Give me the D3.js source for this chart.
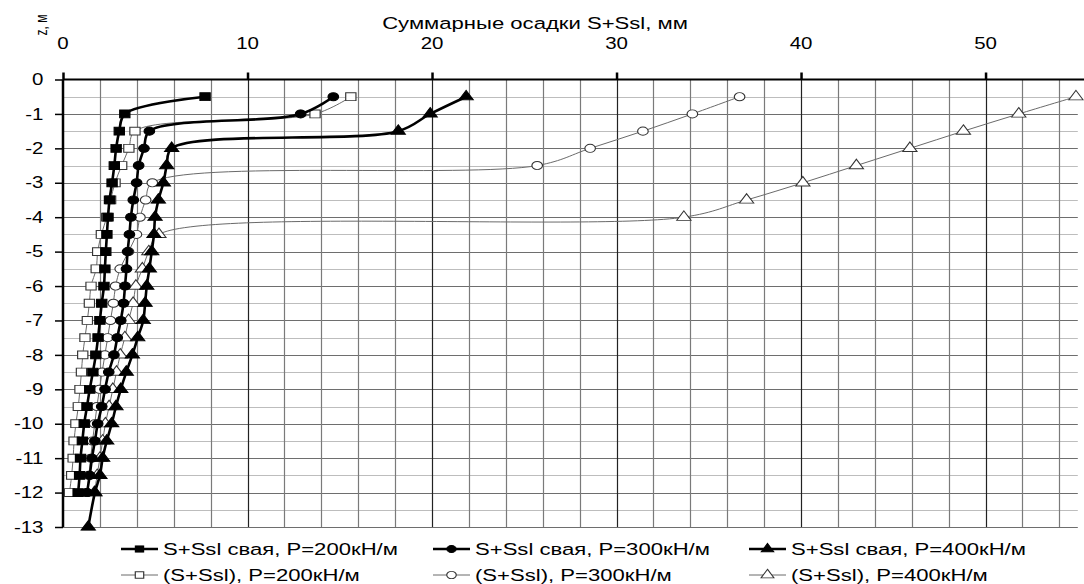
<!DOCTYPE html>
<html>
<head>
<meta charset="utf-8">
<script src="https://cdn.jsdelivr.net/npm/d3@7"></script>
<style>
  body { margin: 0; background: #fff; }
  text { font-family: "Liberation Sans", Arial, sans-serif; fill: #000; }
</style>
</head>
<body>
<svg id="chart"></svg>
<script>
// depths, m
var depths = [-0.5, -1, -1.5, -2, -2.5, -3, -3.5, -4, -4.5, -5, -5.5, -6, -6.5, -7, -7.5, -8,
              -8.5, -9, -9.5, -10, -10.5, -11, -11.5, -12];
var depths400 = [-0.5, -1, -1.5, -2, -2.5, -3, -3.5, -4, -4.5, -5, -5.5, -6, -6.5, -7, -7.5, -8,
                 -8.5, -9, -9.5, -10, -10.5, -11, -11.5, -12, -13];

// settlements, mm
var pile200 = [7.7, 3.35, 3.05, 2.88, 2.78, 2.66, 2.52, 2.44, 2.38, 2.32, 2.27, 2.22, 2.1, 2.0, 1.9, 1.78,
               1.62, 1.45, 1.3, 1.15, 1.05, 0.95, 0.9, 0.82];
var pile300 = [14.65, 12.88, 4.68, 4.39, 4.1, 3.99, 3.81, 3.68, 3.6, 3.5, 3.44, 3.36, 3.28, 3.13, 2.94, 2.76,
               2.48, 2.28, 2.1, 1.88, 1.73, 1.57, 1.45, 1.3];
var pile400 = [21.85, 19.9, 18.17, 5.89, 5.62, 5.44, 5.17, 4.99, 4.93, 4.81, 4.68, 4.54, 4.45, 4.35, 4.05, 3.76,
               3.43, 3.13, 2.87, 2.64, 2.37, 2.15, 2.0, 1.73, 1.37];
var soil200 = [15.6, 13.66, 3.9, 3.57, 3.18, 2.82, 2.58, 2.37, 2.08, 1.88, 1.8, 1.52, 1.43, 1.32, 1.19, 1.07,
               1.0, 0.92, 0.83, 0.7, 0.6, 0.55, 0.47, 0.35];
var soil300 = [36.67, 34.11, 31.43, 28.57, 25.7, 4.84, 4.48, 4.17, 3.98, 3.55, 3.1, 2.85, 2.73, 2.57, 2.42, 2.27,
               2.12, 1.97, 1.84, 1.72, 1.6, 1.5, 1.4, 1.3];
var soil400 = [54.9, 51.8, 48.8, 45.9, 43.0, 40.1, 37.05, 33.65, 5.2, 4.65, 4.3, 3.95, 3.8, 3.55, 3.35, 3.1,
               2.9, 2.7, 2.5, 2.3, 2.15, 2.0, 1.85, 1.7];

var xTicks = [0, 10, 20, 30, 40, 50];
var yTicks = [0, -1, -2, -3, -4, -5, -6, -7, -8, -9, -10, -11, -12, -13];

var seriesNames = ["S+Ssl свая, P=200кН/м", "S+Ssl свая, P=300кН/м", "S+Ssl свая, P=400кН/м",
                   "(S+Ssl), P=200кН/м", "(S+Ssl), P=300кН/м", "(S+Ssl), P=400кН/м"];

var series = [
  {name: seriesNames[3], z: depths, v: soil200, sym: d3.symbolSquare, filled: false},
  {name: seriesNames[4], z: depths, v: soil300, sym: d3.symbolCircle, filled: false},
  {name: seriesNames[5], z: depths, v: soil400, sym: d3.symbolTriangle, filled: false},
  {name: seriesNames[0], z: depths, v: pile200, sym: d3.symbolSquare, filled: true},
  {name: seriesNames[1], z: depths, v: pile300, sym: d3.symbolCircle, filled: true},
  {name: seriesNames[2], z: depths400, v: pile400, sym: d3.symbolTriangle, filled: true}
];

var width = 1084, height = 584;
var stretch = 1.28;   // the picture is a bit wider than tall in its glyphs

var svg = d3.select("#chart")
    .attr("width", width)
    .attr("height", height);

var x = d3.scaleLinear().domain([0, 55]).range([63, 1077.8]);
var y = d3.scaleLinear().domain([0, -13]).range([79.5, 527]);

function label(parent, px, py, str, size, anchor, sx) {
  return parent.append("text")
      .attr("transform", "translate(" + px + "," + py + ") scale(" + sx + ",1)")
      .attr("text-anchor", anchor)
      .attr("font-size", size)
      .text(str);
}

// grid
var grid = svg.append("g");
var hGrid = [];
for (var i = 1; i <= 26; i++) hGrid.push(-i / 2);
grid.selectAll(".h")
    .data(hGrid)
    .enter().append("line")
    .attr("x1", x(0)).attr("x2", x(55))
    .attr("y1", function(d) { return Math.round(y(d)) + 0.5; })
    .attr("y2", function(d) { return Math.round(y(d)) + 0.5; })
    .attr("stroke", function(d) { return d % 1 === 0 ? "#6e6e6e" : "#bdbdbd"; })
    .attr("stroke-width", 1.2);

var vGrid = [];
for (var j = 2; j <= 54; j += 2) vGrid.push(j);
grid.selectAll(".v")
    .data(vGrid)
    .enter().append("line")
    .attr("y1", y(0)).attr("y2", y(-13))
    .attr("x1", function(d) { return Math.round(x(d)) + 0.5; })
    .attr("x2", function(d) { return Math.round(x(d)) + 0.5; })
    .attr("stroke", function(d) { return d % 10 === 0 ? "#222" : "#7a7a7a"; })
    .attr("stroke-width", 1.2);

// axes
var xAxis = svg.append("g")
    .attr("transform", "translate(0," + y(0) + ")")
    .call(d3.axisTop(x).tickValues(xTicks).tickSize(7).tickFormat(""));
xAxis.select(".domain").attr("stroke-width", 2.2).attr("d", "M" + x(0) + ",0H" + width);
xAxis.selectAll(".tick line").attr("stroke-width", 2.5);

var yAxis = svg.append("g")
    .attr("transform", "translate(" + x(0) + ",0)")
    .call(d3.axisLeft(y).tickValues(yTicks).tickSize(8).tickFormat(""));
yAxis.select(".domain").attr("stroke-width", 2.5).attr("d", "M0," + y(0) + "V" + y(-13));
yAxis.selectAll(".tick line").attr("stroke-width", 1.5);

var labels = svg.append("g");
xTicks.forEach(function(d) {
  label(labels, x(d), 49, d3.format("d")(d), 16, "middle", stretch);
});
yTicks.forEach(function(d) {
  label(labels, 43.5, y(d) + 5.7, d === 0 ? "0" : "-" + Math.abs(d), 16, "end", stretch);
});

// titles
label(svg, 535, 29, "Суммарные осадки S+Ssl, мм", 17, "middle", 1.3);

svg.append("text")
    .attr("transform", "translate(46.5,25) scale(1.3,1) rotate(-90)")
    .attr("text-anchor", "middle")
    .attr("font-size", 12)
    .text("z, м");

// lines and markers
var line = d3.line()
    .x(function(d) { return x(d[0]); })
    .y(function(d) { return y(d[1]); })
    .curve(d3.curveCatmullRom);

function symSize(s) {
  if (s === d3.symbolTriangle) return 52;
  if (s === d3.symbolCircle) return 52;
  return 62;
}

series.forEach(function(s) {
  var pts = s.v.map(function(v, k) { return [v, s.z[k]]; });
  svg.append("path")
      .datum(pts)
      .attr("d", line)
      .attr("fill", "none")
      .attr("stroke", s.filled ? "#000" : "#6a6a6a")
      .attr("stroke-width", s.filled ? 2.6 : 1);
  svg.selectAll(null)
      .data(pts)
      .enter().append("path")
      .attr("transform", function(d) {
        return "translate(" + x(d[0]) + "," + y(d[1]) + ") scale(1.3,1)";
      })
      .attr("d", d3.symbol().type(s.sym).size(symSize(s.sym)))
      .attr("fill", s.filled ? "#000" : "#fff")
      .attr("stroke", s.filled ? "#000" : "#333")
      .attr("stroke-width", 0.9);
});

// legend
var legendOrder = [3, 4, 5, 0, 1, 2];
var legendX = [121, 433, 749];
var legendY = [549, 575];
legendOrder.forEach(function(idx, k) {
  var s = series[idx];
  var lx = legendX[k % 3], ly = legendY[Math.floor(k / 3)];
  var g = svg.append("g").attr("transform", "translate(" + lx + "," + ly + ")");
  g.append("line")
      .attr("x1", 0).attr("x2", 37).attr("y1", 0).attr("y2", 0)
      .attr("stroke", s.filled ? "#000" : "#6a6a6a")
      .attr("stroke-width", s.filled ? 2.6 : 1);
  g.append("path")
      .attr("transform", "translate(18.5,0) scale(1.3,1)")
      .attr("d", d3.symbol().type(s.sym).size(s.filled ? 40 : 42))
      .attr("fill", s.filled ? "#000" : "#fff")
      .attr("stroke", s.filled ? "#000" : "#333")
      .attr("stroke-width", 0.9);
  label(g, 42, 6, s.name, 17, "start", 1.3);
});
</script>
</body>
</html>
